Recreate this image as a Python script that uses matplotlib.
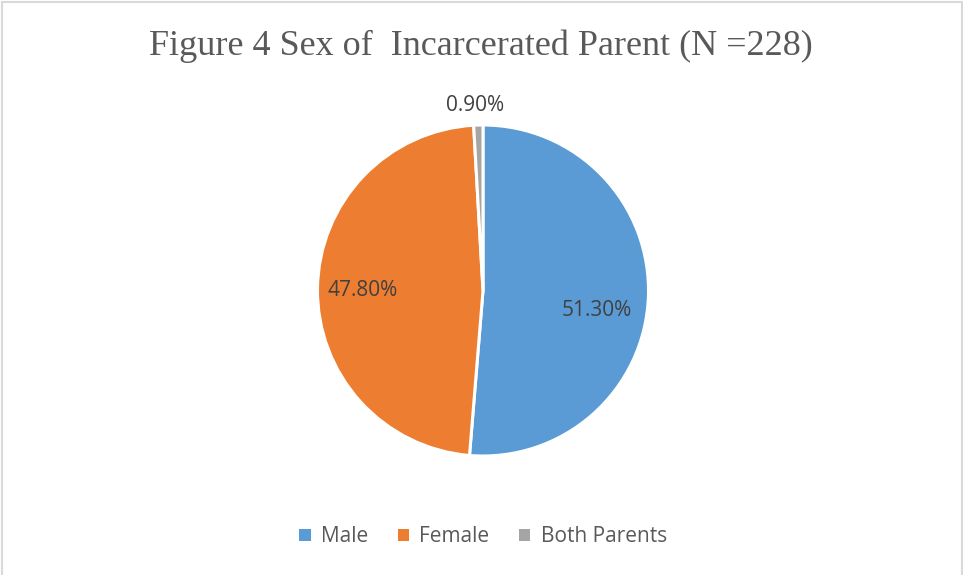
import numpy as np
import matplotlib.pyplot as plt
from matplotlib.patches import Patch
from matplotlib.lines import Line2D

# Data
categories = ["Male", "Female", "Both Parents"]
shares = [51.3, 47.8, 0.9]
label_text = ["51.30%", "47.80%", "0.90%"]
colors = ["#5B9BD5", "#ED7D31", "#A5A5A5"]

# where each percentage label sits (radius, angle in degrees)
label_pos = [(0.70, -10), (0.73, 180), (1.12, 92.5)]

W, H = 963, 575
fig = plt.figure(figsize=(W / 100, H / 100), dpi=100)

# pie axes: centre (483, 290), radius 165 px
cx, cy, r = 483, 290.5, 165.5
ax = fig.add_axes([(cx - r) / W, (H - cy - r) / H, 2 * r / W, 2 * r / H])
ax.pie(shares, colors=colors, startangle=90, counterclock=False, radius=1,
       wedgeprops=dict(edgecolor="white", linewidth=2.2))
ax.set_xlim(-1, 1)
ax.set_ylim(-1, 1)
ax.set_aspect("equal")
ax.axis("off")

for txt, (rr, ang) in zip(label_text, label_pos):
    a = np.deg2rad(ang)
    ax.text(rr * np.cos(a), rr * np.sin(a), txt, ha="center", va="center",
            fontsize=15, color="#404040", family="Open Sans", clip_on=False)

fig.text(481 / W, 1 - 46 / H, "Figure 4 Sex of  Incarcerated Parent (N =228)",
         ha="center", va="center", fontsize=26, color="#595959",
         family="Liberation Serif")

handles = [Patch(facecolor=c, edgecolor="none") for c in colors]
fig.legend(handles, categories, loc="center", bbox_to_anchor=(483 / W, 1 - 537 / H),
           ncol=3, frameon=False, handlelength=0.55, handleheight=0.55,
           handletextpad=0.5, columnspacing=1.4,
           prop=dict(family="Open Sans", size=15), labelcolor="#595959")

# light chart border
bc = "#D9D9D9"
fig.add_artist(Line2D([1.5 / W, 1.5 / W], [0, 1 - 1.5 / H], color=bc, lw=1.5))
fig.add_artist(Line2D([1.5 / W, 1 - 1.5 / W], [1 - 1.5 / H, 1 - 1.5 / H], color=bc, lw=1.5))
fig.add_artist(Line2D([1 - 1.5 / W, 1 - 1.5 / W], [0, 1 - 1.5 / H], color=bc, lw=1.5))

fig.savefig("out.png", dpi=100)
